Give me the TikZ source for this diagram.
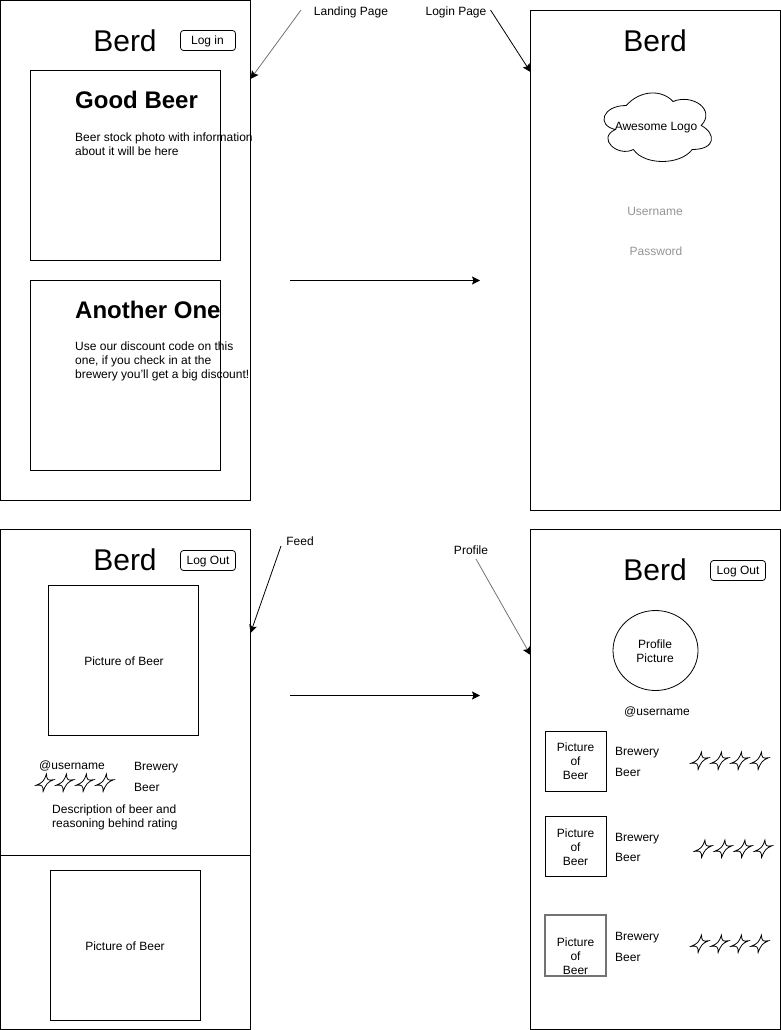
\documentclass[tikz,border=0pt]{standalone}
\usepackage{fontspec}
\setmainfont{Liberation Sans}
\usetikzlibrary{arrows.meta}
\tikzset{
  x=1pt,y=-1pt,
  ln/.style={draw=black,line width=0.8pt},
  txt/.style={inner sep=0pt,font=\fontsize{12}{14}\selectfont,text=black},
  ltxt/.style={txt,anchor=west,align=left},
  ctxt/.style={txt,align=center},
  gtxt/.style={txt,text=black!42},
  logo/.style={inner sep=0pt,font=\fontsize{30}{34}\selectfont},
  head/.style={inner sep=0pt,anchor=west,font=\fontsize{24}{28}\selectfont\bfseries},
  conn/.style={-{Stealth[length=8pt,width=8pt,inset=1.5pt]},line width=0.8pt},
  gconn/.style={conn,draw=black!55,-{Stealth[length=8pt,width=8pt,inset=1.5pt,color=black]}},
  btn/.style={ln,rounded corners=3pt},
  pics/fourstar/.style={code={
    \draw[line width=0.8pt,scale=0.94] (-9.5,2.5) .. controls (-2.5,-0.5) and (-1,-2) .. (1.5,-9.5)
      .. controls (2,-3) and (3,-2.5) .. (9,-3.5)
      .. controls (3,-1) and (1,1) .. (-2,9)
      .. controls (-2,3) and (-3,1.5) .. (-9.5,2.5) -- cycle;
  }}
}
\begin{document}
\begin{tikzpicture}
\useasboundingbox (0,0) rectangle (781,1030);
% phones
\draw[ln] (0.5,0.5) rectangle (250.5,500.5);
\draw[ln] (530.5,10.5) rectangle (780.5,510.5);
\draw[ln] (0.5,529.5) rectangle (250.5,1029.5);
\draw[ln] (530.5,529.5) rectangle (780.5,1029.5);
\draw[ln] (0.5,855.5) -- (250.5,855.5);
% landing
\node[logo] (b1) at (125,41) {Berd};
\draw[btn] (180.5,30.5) rectangle (235.5,50.5);
\node[ctxt] (login) at (207.5,41.5) {Log in};
\draw[ln] (30.5,70.5) rectangle (220.5,260.5);
\draw[ln] (30.5,280.5) rectangle (220.5,470.5);
\node[head] (h1) at (75,100) {Good Beer};
\node[ltxt] (t1) at (75,144) {Beer stock photo with information\\about it will be here};
\node[head] (h2) at (75,310) {Another One};
\node[ltxt] (t2) at (75,361) {Use our discount code on this\\one, if you check in at the\\brewery you'll get a big discount!};
% login
\node[logo] (b2) at (655,41) {Berd};
\begin{scope}[shift={(596.2,85.5)}]
\draw[ln] (30,20) .. controls (6,20) and (0,40) .. (19.2,44)
 .. controls (0,52.8) and (21.6,72) .. (37.2,64)
 .. controls (48,80) and (84,80) .. (96,64)
 .. controls (120,64) and (120,48) .. (105,40)
 .. controls (120,24) and (96,8) .. (76.8,16)
 .. controls (66,4) and (44.4,4) .. (30,20) -- cycle;
\end{scope}
\node[ctxt] (logo) at (656,127.5) {Awesome Logo};
\node[gtxt] (user) at (655,211) {Username};
\node[gtxt] (pass) at (656,251) {Password};
% feed
\node[logo] (b3) at (125,560) {Berd};
\draw[btn] (180.5,550.5) rectangle (235.5,570.5);
\node[ctxt] (logout1) at (208,561.5) {Log Out};
\draw[ln] (48.8,585.5) rectangle (198.8,735.5);
\node[ctxt] (p1) at (124,661) {Picture of Beer};
\node[ctxt] (u1) at (72,766) {@username};
\node[ltxt] (br0) at (134,768) {Brewery};
\node[ltxt] (be0) at (134,787) {Beer};
\node[ltxt] (desc) at (52,817.5) {Description of beer and\\reasoning behind rating};
\foreach \x in {45,65,85,105} \pic at (\x,783) {fourstar};
\draw[ln] (50.5,870.5) rectangle (200.5,1020.5);
\node[ctxt] (p2) at (125,946) {Picture of Beer};
% profile
\node[logo] (b4) at (655,570) {Berd};
\draw[btn] (710.5,560.5) rectangle (765.5,580.5);
\node[ctxt] (logout2) at (738,571.5) {Log Out};
\draw[ln] (655.5,650.5) ellipse [x radius=42.5,y radius=40];
\node[ctxt] (pp) at (655,651) {Profile\\Picture};
\node[ctxt] (u2) at (657,712) {@username};
\draw[ln] (545,731) rectangle (606,791);
\draw[ln] (545,816) rectangle (606,876);
\draw[line width=1.8pt,draw=black!55] (545,915) rectangle (606,976);
\node[ctxt] (q1) at (575.5,761) {Picture\\of\\Beer};
\node[ctxt] (q2) at (575.5,847) {Picture\\of\\Beer};
\node[ctxt] (q3) at (575.5,956) {Picture\\of\\Beer};
\node[ltxt] (br1) at (615,753) {Brewery};
\node[ltxt] (be1) at (615,772) {Beer};
\node[ltxt] (br2) at (615,839) {Brewery};
\node[ltxt] (be2) at (615,857) {Beer};
\node[ltxt] (br3) at (615,938) {Brewery};
\node[ltxt] (be3) at (615,957) {Beer};
\foreach \x in {700,720,740,760} \pic at (\x,761) {fourstar};
\foreach \x in {703.5,723.5,743.5,763.5} \pic at (\x,849) {fourstar};
\foreach \x in {700,720,740,760} \pic at (\x,944) {fourstar};
% labels
\node[ctxt] (l1) at (351,12) {Landing Page};
\node[ctxt] (l2) at (456,12) {Login Page};
\node[ctxt] (l3) at (300,541) {Feed};
\node[ctxt] (l4) at (471,550) {Profile};
% connectors
\coordinate (a1s) at (290,280.5); \coordinate (a1e) at (480,280.5);
\coordinate (a2s) at (290,695.5); \coordinate (a2e) at (480,695.5);
\coordinate (c1s) at (301,10); \coordinate (c1e) at (250.5,79);
\coordinate (c2s) at (490.5,10); \coordinate (c2e) at (530.5,72);
\coordinate (c3s) at (281,546); \coordinate (c3e) at (250.5,633);
\coordinate (c4s) at (476,559); \coordinate (c4e) at (530.5,655);
\draw[conn] (a1s) -- (a1e);
\draw[conn] (a2s) -- (a2e);
\draw[gconn] (c1s) -- (c1e);
\draw[conn] (c2s) -- (c2e);
\draw[conn] (c3s) -- (c3e);
\draw[gconn] (c4s) -- (c4e);
\end{tikzpicture}
\end{document}
